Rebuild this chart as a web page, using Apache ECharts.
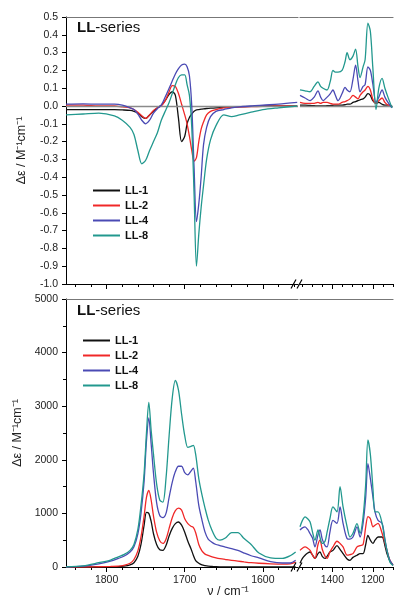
<!DOCTYPE html>
<html>
<head>
<meta charset="utf-8">
<script src="https://cdn.jsdelivr.net/npm/echarts@6/dist/echarts.min.js"></script>
<style>
  html, body { margin: 0; padding: 0; background: #fff; }
  #main { width: 394px; height: 606px; }
</style>
</head>
<body>
<div id="main"></div>
<script>
const seriesNames = ['LL-1', 'LL-2', 'LL-4', 'LL-8'];
const seriesColors = ['#111111', '#f02828', '#4a4ab4', '#22988e'];

// VCD panel, left part of the broken axis (cm-1)
const vcdNuL = [1852, 1830, 1810, 1790, 1780, 1770, 1765, 1760, 1755, 1750, 1745, 1740, 1735, 1730, 1725, 1720, 1716, 1712, 1708, 1704, 1700, 1697, 1694, 1691, 1688, 1685, 1682, 1679, 1676, 1672, 1667, 1660, 1650, 1640, 1630, 1615, 1600, 1580, 1556];
const vcdL1 = [-0.02, -0.02, -0.02, -0.02, -0.022, -0.025, -0.03, -0.04, -0.06, -0.07, -0.05, -0.03, -0.01, 0.005, 0.03, 0.065, 0.08, 0.06, -0.07, -0.2, -0.17, -0.1, -0.065, -0.045, -0.03, -0.022, -0.02, -0.018, -0.016, -0.014, -0.012, -0.01, -0.008, -0.006, -0.004, -0.002, 0, 0, 0];
const vcdL2 = [0.005, 0.005, 0, 0, -0.005, -0.01, -0.02, -0.035, -0.055, -0.07, -0.05, -0.025, -0.01, 0, 0.03, 0.08, 0.115, 0.11, 0.07, 0.01, -0.05, -0.1, -0.17, -0.25, -0.31, -0.29, -0.2, -0.13, -0.09, -0.05, -0.03, -0.02, -0.01, -0.008, -0.006, -0.004, -0.002, 0, 0];
const vcdL4 = [0.01, 0.012, 0.01, 0.01, 0.005, -0.01, -0.02, -0.045, -0.08, -0.1, -0.08, -0.04, -0.015, 0.005, 0.05, 0.1, 0.14, 0.18, 0.21, 0.23, 0.235, 0.22, 0.17, 0, -0.35, -0.65, -0.55, -0.4, -0.22, -0.12, -0.06, -0.03, -0.02, -0.01, -0.005, 0, 0.005, 0.01, 0.02];
const vcdL8 = [-0.05, -0.045, -0.04, -0.055, -0.08, -0.12, -0.16, -0.25, -0.325, -0.305, -0.25, -0.2, -0.15, -0.08, -0.03, 0.02, 0.07, 0.12, 0.16, 0.175, 0.175, 0.12, 0.06, -0.12, -0.5, -0.9, -0.72, -0.57, -0.45, -0.3, -0.19, -0.11, -0.05, -0.06, -0.05, -0.035, -0.02, -0.01, 0];

// VCD panel, right part
const vcdNuR = [1560, 1535, 1510, 1490, 1471, 1458, 1446, 1426, 1410, 1397, 1385, 1372, 1352, 1337, 1327, 1313, 1298, 1285, 1273, 1263, 1248, 1238, 1224, 1212, 1200, 1184, 1170, 1154, 1140, 1125, 1105];
const vcdR1 = [0.005, 0.005, 0.003, 0.002, 0, 0, 0, 0.002, 0.003, 0.004, 0.005, 0.005, 0.005, 0.007, 0.01, 0.01, 0.02, 0.025, 0.03, 0.035, 0.04, 0.05, 0.07, 0.06, 0.03, 0.015, 0.02, 0.01, 0.005, 0.005, 0];
const vcdR2 = [0.02, 0.015, 0.015, 0.015, 0.02, 0.015, 0.02, 0.02, 0.015, 0.01, 0.01, 0.01, 0.02, 0.025, 0.03, 0.04, 0.06, 0.05, 0.04, 0.06, 0.08, 0.09, 0.11, 0.09, 0.04, 0.015, 0.03, 0.045, 0.02, 0.005, 0];
const vcdR4 = [0.06, 0.045, 0.03, 0.05, 0.085, 0.05, 0.03, 0.05, 0.07, 0.09, 0.06, 0.03, 0.07, 0.105, 0.09, 0.08, 0.15, 0.23, 0.14, 0.08, 0.11, 0.12, 0.22, 0.2, 0.125, 0.02, 0.05, 0.09, 0.05, 0.02, -0.01];
const vcdR8 = [0.09, 0.085, 0.08, 0.11, 0.135, 0.11, 0.1, 0.09, 0.14, 0.2, 0.19, 0.19, 0.2, 0.25, 0.3, 0.26, 0.28, 0.32, 0.22, 0.16, 0.22, 0.26, 0.465, 0.42, 0.22, -0.02, 0.1, 0.155, 0.1, 0.05, -0.01];

// IR panel, left part
const irNuL = [1852, 1830, 1810, 1795, 1785, 1778, 1770, 1765, 1760, 1756, 1752, 1749, 1746, 1743, 1740, 1736, 1732, 1728, 1724, 1720, 1716, 1712, 1708, 1704, 1700, 1696, 1692, 1689, 1686, 1682, 1678, 1674, 1670, 1665, 1660, 1655, 1648, 1640, 1632, 1624, 1615, 1605, 1590, 1575, 1565, 1558];
const irL1 = [0, 0, 0, 0, 5, 15, 40, 80, 200, 420, 780, 1020, 1000, 850, 620, 420, 320, 310, 400, 580, 720, 810, 840, 780, 650, 480, 340, 220, 120, 70, 40, 25, 15, 10, 5, 3, 2, 0, 0, 0, 0, 0, 0, 0, 0, 0];
const irL2 = [0, 0, 5, 10, 15, 30, 70, 140, 300, 560, 950, 1300, 1430, 1250, 950, 650, 490, 440, 520, 720, 920, 1050, 1100, 1060, 900, 810, 760, 740, 640, 420, 300, 240, 215, 190, 170, 155, 140, 125, 110, 95, 80, 70, 60, 55, 60, 90];
const irL4 = [0, 15, 60, 110, 160, 200, 280, 380, 620, 1000, 1600, 2350, 2780, 2300, 1750, 1200, 960, 920, 1000, 1300, 1580, 1780, 1880, 1880, 1760, 1720, 1790, 1845, 1600, 1150, 880, 650, 520, 460, 420, 400, 370, 345, 310, 260, 210, 170, 100, 75, 75, 125];
const irL8 = [0, 20, 80, 130, 190, 230, 310, 420, 700, 1150, 1750, 2500, 3070, 2550, 2100, 1550, 1250, 1210, 1650, 2450, 3150, 3480, 3300, 2850, 2450, 2230, 2250, 2270, 2100, 1650, 1350, 1100, 880, 680, 540, 500, 540, 640, 640, 530, 420, 260, 170, 160, 210, 280];

// IR panel, right part
const irNuR = [1560, 1548, 1535, 1522, 1510, 1498, 1486, 1471, 1461, 1450, 1436, 1426, 1412, 1397, 1377, 1362, 1347, 1327, 1313, 1298, 1278, 1263, 1248, 1235, 1224, 1212, 1199, 1189, 1174, 1154, 1140, 1130, 1115, 1100];
const irR1 = [70, 160, 220, 260, 280, 220, 160, 250, 280, 200, 160, 200, 280, 310, 400, 330, 250, 150, 125, 180, 220, 250, 250, 420, 590, 500, 440, 500, 560, 560, 400, 250, 110, 30];
const irR2 = [310, 350, 375, 350, 310, 220, 160, 420, 500, 330, 200, 160, 280, 375, 480, 440, 375, 220, 230, 250, 375, 400, 420, 750, 940, 900, 750, 780, 815, 630, 450, 310, 120, 40];
const irR4 = [690, 730, 750, 700, 620, 540, 375, 600, 690, 520, 400, 375, 650, 870, 815, 1120, 815, 530, 520, 560, 750, 560, 815, 1300, 1930, 1650, 1300, 1030, 870, 815, 520, 310, 120, 40];
const irR8 = [750, 870, 935, 900, 840, 650, 500, 690, 550, 440, 480, 650, 900, 1120, 1030, 1500, 1120, 750, 560, 630, 810, 630, 935, 1550, 2370, 2100, 1450, 1030, 1030, 815, 500, 310, 90, 30];

// tick marks
const majorL = [1800, 1700, 1600];
const minorL = [1840, 1820, 1780, 1760, 1740, 1720, 1680, 1660, 1640, 1620, 1580, 1560];
const majorR = [1400, 1200];
const minorR = [1550, 1500, 1450, 1350, 1300, 1250, 1150, 1100];

const FONT = '"Liberation Sans", Arial, sans-serif';
const chart = echarts.init(document.getElementById('main'));

const grids = [
  { left: 66, top: 17, width: 232, height: 267 },
  { left: 300, top: 17, width: 93, height: 267 },
  { left: 66, top: 299, width: 232, height: 268 },
  { left: 300, top: 299, width: 93, height: 268 }
];

function xAxesFor(gi, min, max, majors, minors, showLabels) {
  const base = { type: 'value', gridIndex: gi, min: min, max: max, inverse: true, splitLine: { show: false } };
  return [
    Object.assign({}, base, {
      position: 'bottom',
      axisLine: { onZero: false, lineStyle: { color: '#000', width: 1 } },
      axisTick: { customValues: majors, length: 5, lineStyle: { color: '#000' } },
      axisLabel: { show: showLabels, customValues: majors, margin: 8, fontFamily: FONT, fontSize: 10.5, color: '#222', formatter: v => String(v) }
    }),
    Object.assign({}, base, {
      position: 'bottom',
      axisLine: { show: false, onZero: false },
      axisTick: { customValues: minors, length: 3, lineStyle: { color: '#000' } },
      axisLabel: { show: false }
    }),
    Object.assign({}, base, {
      position: 'top',
      axisLine: { onZero: false, lineStyle: { color: '#777', width: 1.2 } },
      axisTick: { show: false },
      axisLabel: { show: false }
    })
  ];
}

const xAxis = [].concat(
  xAxesFor(0, 1555, 1852, majorL, minorL, false),
  xAxesFor(1, 1100, 1560, majorR, minorR, false),
  xAxesFor(2, 1555, 1852, majorL, minorL, true),
  xAxesFor(3, 1100, 1560, majorR, minorR, true)
);

const yName = 'Δε / M⁻¹cm⁻¹';
const yAxis = [
  {
    type: 'value', gridIndex: 0, min: -1, max: 0.5, interval: 0.1,
    name: yName, nameLocation: 'middle', nameGap: 38,
    nameTextStyle: { fontFamily: FONT, fontSize: 12.5, color: '#222' },
    axisLine: { show: true, onZero: false, lineStyle: { color: '#000' } },
    axisTick: { length: 4, lineStyle: { color: '#000' } },
    axisLabel: { fontFamily: FONT, fontSize: 10.5, color: '#222', margin: 8, formatter: v => v.toFixed(1) },
    splitLine: { show: false }
  },
  { type: 'value', gridIndex: 1, min: -1, max: 0.5, show: false },
  {
    type: 'value', gridIndex: 2, min: 0, max: 5000, interval: 1000,
    name: yName, nameLocation: 'middle', nameGap: 40,
    nameTextStyle: { fontFamily: FONT, fontSize: 12.5, color: '#222' },
    axisLine: { show: true, onZero: false, lineStyle: { color: '#000' } },
    axisTick: { length: 4, lineStyle: { color: '#000' } },
    minorTick: { show: true, splitNumber: 2, length: 3, lineStyle: { color: '#000' } },
    axisLabel: { fontFamily: FONT, fontSize: 10.5, color: '#222', margin: 8, formatter: v => String(v) },
    splitLine: { show: false }
  },
  { type: 'value', gridIndex: 3, min: 0, max: 5000, show: false }
];

const panels = [
  { gi: 0, nu: vcdNuL, sets: [vcdL1, vcdL2, vcdL4, vcdL8], zero: true },
  { gi: 1, nu: vcdNuR, sets: [vcdR1, vcdR2, vcdR4, vcdR8], zero: true },
  { gi: 2, nu: irNuL, sets: [irL1, irL2, irL4, irL8], zero: false },
  { gi: 3, nu: irNuR, sets: [irR1, irR2, irR4, irR8], zero: false }
];

const series = [];
panels.forEach(p => {
  p.sets.forEach((vals, k) => {
    const s = {
      type: 'line',
      name: seriesNames[k],
      xAxisIndex: p.gi * 3,
      yAxisIndex: p.gi,
      data: p.nu.map((v, i) => [v, vals[i]]),
      showSymbol: false,
      smooth: 0.3,
      lineStyle: { color: seriesColors[k], width: 1.3 },
      itemStyle: { color: seriesColors[k] },
      z: 3 + k
    };
    if (p.zero && k === 0) {
      s.markLine = {
        silent: true, symbol: 'none', label: { show: false },
        lineStyle: { color: '#8a8a8a', width: 1.3, type: 'solid' },
        data: [{ yAxis: 0 }]
      };
    }
    series.push(s);
  });
});

const legendBase = {
  orient: 'vertical',
  data: seriesNames,
  icon: 'rect',
  itemWidth: 27,
  itemHeight: 2,
  itemGap: 0,
  padding: 0,
  selectedMode: false,
  textStyle: { fontFamily: FONT, fontSize: 11, fontWeight: 'bold', color: '#111', lineHeight: 15 }
};

const titleStyle = {
  fontFamily: FONT, fontSize: 15, fontWeight: 'normal', color: '#111',
  rich: { b: { fontFamily: FONT, fontSize: 15, fontWeight: 'bold', color: '#111' } }
};

function breakMark(y) {
  return [
    { type: 'line', shape: { x1: 291, y1: y + 4.5, x2: 296, y2: y - 4.5 }, style: { stroke: '#000', lineWidth: 1.2 }, z: 100 },
    { type: 'line', shape: { x1: 297, y1: y + 4.5, x2: 302, y2: y - 4.5 }, style: { stroke: '#000', lineWidth: 1.2 }, z: 100 }
  ];
}

const option = {
  animation: false,
  backgroundColor: '#fff',
  title: [
    { text: '{b|LL}-series', left: 77, top: 20, padding: 0, textStyle: titleStyle },
    { text: '{b|LL}-series', left: 77, top: 303, padding: 0, textStyle: titleStyle }
  ],
  legend: [
    Object.assign({}, legendBase, { left: 93, top: 183 }),
    Object.assign({}, legendBase, { left: 83, top: 333 })
  ],
  grid: grids,
  xAxis: xAxis,
  yAxis: yAxis,
  series: series,
  graphic: [].concat(
    breakMark(284),
    breakMark(567),
    [{
      type: 'text', x: 228, y: 592,
      style: { text: 'ν / cm⁻¹', textAlign: 'center', textVerticalAlign: 'middle', font: '12.5px ' + FONT, fill: '#222' }
    }]
  )
};

chart.setOption(option);
window.addEventListener('resize', () => {
  chart.resize();
});
</script>
</body>
</html>
